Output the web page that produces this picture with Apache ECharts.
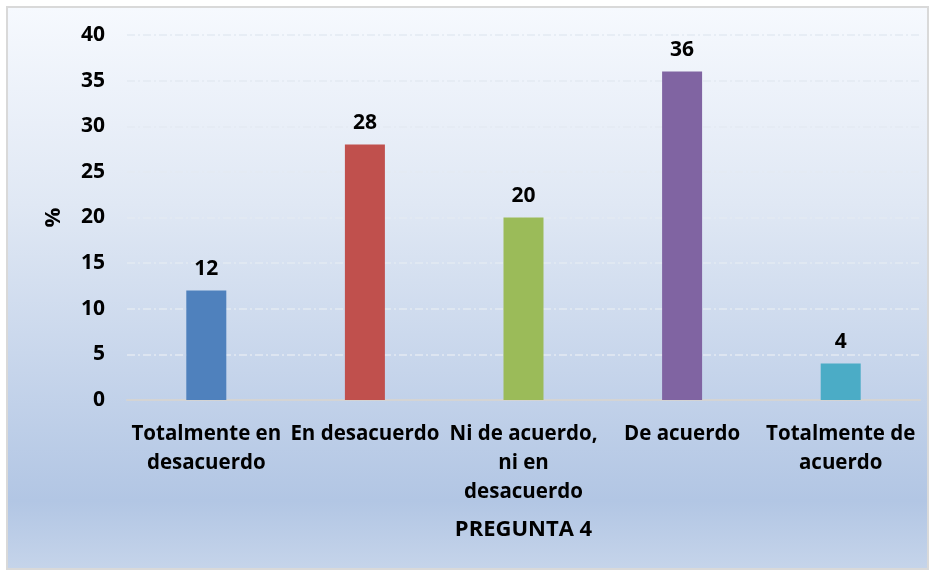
<!DOCTYPE html>
<html>
<head>
    <meta charset="utf-8">
    <title>Pregunta 4</title>
    <script src="https://cdn.jsdelivr.net/npm/echarts@6/dist/echarts.min.js"></script>
    <style>
        html, body { margin: 0; padding: 0; background: #ffffff; }
        #main {
            position: absolute;
            left: 6px; top: 6px;
            width: 919px; height: 560px;
            border: 2px solid #d9d9d9;
        }
    </style>
</head>
<body>
    <div id="main"></div>
    <script>
        // datos de la pregunta 4
        var categorias = ['Totalmente en\ndesacuerdo', 'En desacuerdo', 'Ni de acuerdo,\nni en\ndesacuerdo', 'De acuerdo', 'Totalmente de\nacuerdo'];
        var porcentajes = [12, 28, 20, 36, 4];
        var colores = ['#4f81bd', '#c0504d', '#9bbb59', '#8064a2', '#4bacc6'];

        var fuente = '"Open Sans", Lato, sans-serif';
        var myChart = echarts.init(document.getElementById('main'));

        var datos = porcentajes.map(function (v, i) {
            return { value: v, itemStyle: { color: colores[i] } };
        });

        var option = {
            backgroundColor: {
                type: 'linear', x: 0, y: 0, x2: 0, y2: 1,
                colorStops: [
                    { offset: 0, color: '#f6f9fe' },
                    { offset: 0.35, color: '#e0e8f4' },
                    { offset: 0.88, color: '#b2c6e4' },
                    { offset: 1, color: '#c5d4ea' }
                ]
            },
            textStyle: { fontFamily: fuente },
            grid: { left: 119, right: 7, top: 27, bottom: 168 },
            xAxis: {
                type: 'category',
                data: categorias,
                name: 'PREGUNTA 4',
                nameLocation: 'middle',
                nameGap: 119,
                nameTextStyle: { color: '#000', fontSize: 22, fontWeight: 'bold', fontFamily: fuente },
                axisLine: { lineStyle: { color: '#d4d4d4', width: 2 } },
                axisTick: { show: false },
                axisLabel: {
                    interval: 0,
                    color: '#000',
                    fontSize: 20.5,
                    fontWeight: 'bold',
                    lineHeight: 29,
                    margin: 20,
                    verticalAlign: 'top'
                }
            },
            yAxis: {
                type: 'value',
                min: 0,
                max: 40,
                interval: 5,
                name: '%',
                nameLocation: 'middle',
                nameGap: 62,
                nameTextStyle: { color: '#000', fontSize: 22, fontWeight: 'bold', fontFamily: fuente },
                axisLine: { show: false },
                axisTick: { show: false },
                axisLabel: { color: '#000', fontSize: 21, fontWeight: 'bold', margin: 22 },
                splitLine: {
                    lineStyle: { color: '#e4eaf2', width: 1.5, type: [8, 3, 2, 3] }
                }
            },
            series: [{
                type: 'bar',
                data: datos,
                barWidth: 40,
                label: {
                    show: true,
                    position: 'top',
                    distance: 11,
                    color: '#000',
                    fontSize: 21,
                    fontWeight: 'bold',
                    fontFamily: fuente
                }
            }]
        };

        myChart.setOption(option);
    </script>
</body>
</html>
